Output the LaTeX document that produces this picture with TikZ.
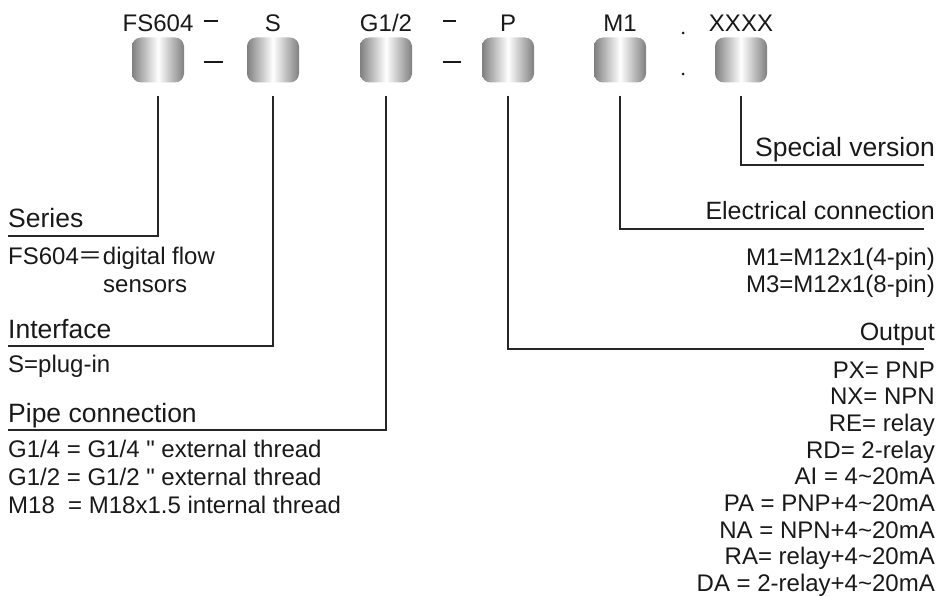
\documentclass[tikz,border=0pt]{standalone}
\usepackage{fontspec}
\setmainfont{Liberation Sans}
\newfontfamily\cjk{Noto Sans CJK SC}

\tikzset{
	blk/.style={rounded corners=9pt, minimum width=52pt, minimum height=45pt,
		inner sep=0pt, left color=black!50, right color=black!50, middle color=white},
	lead/.style={black!85, line width=1.3pt},
	head/.style={inner sep=0pt, font=\fontsize{26.5}{29}\selectfont, text=black!90},
	txt/.style={inner sep=0pt, font=\fontsize{24}{27}\selectfont, text=black!90},
	sep/.style={black!90, line width=1.3pt},
	septhick/.style={black!90, line width=2.6pt}
}

\begin{document}
\begin{tikzpicture}[x=1pt, y=-1pt]
		\useasboundingbox (0,0) rectangle (938,596);

		% order code: labels and blocks
		\node[blk] (fs) at (158,60) {};
		\node[blk] (s)  at (273,60) {};
		\node[blk] (g)  at (386,60) {};
		\node[blk] (p)  at (508,60) {};
		\node[blk] (m)  at (620,60) {};
		\node[blk] (x)  at (741,60) {};

		\node[txt, anchor=base] (fsL) at (158,32) {FS604};
		\node[txt, anchor=base] (sL)  at (273,32) {S};
		\node[txt, anchor=base] (gL)  at (386,32) {G1/2};
		\node[txt, anchor=base] (pL)  at (508,32) {P};
		\node[txt, anchor=base] (mL)  at (620,32) {M1};
		\node[txt, anchor=base] (xL)  at (741,32) {XXXX};

		% separators
		\draw[sep] (204,21) -- (218,21);
		\draw[sep] (443,21) -- (456,21);
		\draw[septhick] (204,62) -- (223,62);
		\draw[septhick] (443,62) -- (461,62);
		\fill[black!90] (683,33) circle (1.5pt);
		\fill[black!90] (683,74) circle (1.5pt);

		% free ends of the leads
		\coordinate (serE) at (8,236);
		\coordinate (intE) at (8,346);
		\coordinate (pipE) at (8,430);
		\coordinate (outE) at (924,349);
		\coordinate (eleE) at (924,229);
		\coordinate (speE) at (924,165);

		% Series
		\draw[lead] ([yshift=-13pt]fs.south) |- (serE);
		\node[head, anchor=base west] (series) at (8,228) {Series};
		\node[txt, anchor=base west] (seriesA) at (8,265) {FS604{\cjk ＝}digital flow};
		\node[txt, anchor=base west] (seriesB) at (103,293) {sensors};

		% Interface
		\draw[lead] ([yshift=-13pt]s.south) |- (intE);
		\node[head, anchor=base west] (iface) at (8,338) {Interface};
		\node[txt, anchor=base west] (ifaceA) at (8,372) {S=plug-in};

		% Pipe connection
		\draw[lead] ([yshift=-13pt]g.south) |- (pipE);
		\node[head, anchor=base west] (pipe) at (8,422) {Pipe connection};
		\node[txt, anchor=base west] (pipeA) at (8,457) {G1/4 = G1/4 \textquotedbl{} external thread};
		\node[txt, anchor=base west] (pipeB) at (8,485) {G1/2 = G1/2 \textquotedbl{} external thread};
		\node[txt, anchor=base west] (pipeC) at (8,513) {M18\ \ = M18x1.5 internal thread};

		% Special version
		\draw[lead] ([yshift=-13pt]x.south) |- (speE);
		\node[head, anchor=base east] (spec) at (935,157) {Special version};

		% Electrical connection
		\draw[lead] ([yshift=-13pt]m.south) |- (eleE);
		\node[txt, anchor=base east, font=\fontsize{25}{28}\selectfont] (elec) at (935,220) {Electrical connection};
		\node[txt, anchor=base east] (elecA) at (935,266) {M1=M12x1(4-pin)};
		\node[txt, anchor=base east] (elecB) at (935,293) {M3=M12x1(8-pin)};

		% Output
		\draw[lead] ([yshift=-13pt]p.south) |- (outE);
		\node[txt, anchor=base east, font=\fontsize{25}{28}\selectfont] (output) at (935,341) {Output};
		\foreach \t [count=\i] in {PX= PNP, NX= NPN, RE= relay, RD= 2-relay,
			AI = 4\textasciitilde20mA, PA = PNP+4\textasciitilde20mA,
			NA = NPN+4\textasciitilde20mA, RA= relay+4\textasciitilde20mA,
			DA = 2-relay+4\textasciitilde20mA}
			\node[txt, anchor=base east] (out\i) at (935,{378+(\i-1)*26.7}) {\t};
	\end{tikzpicture}
\end{document}
